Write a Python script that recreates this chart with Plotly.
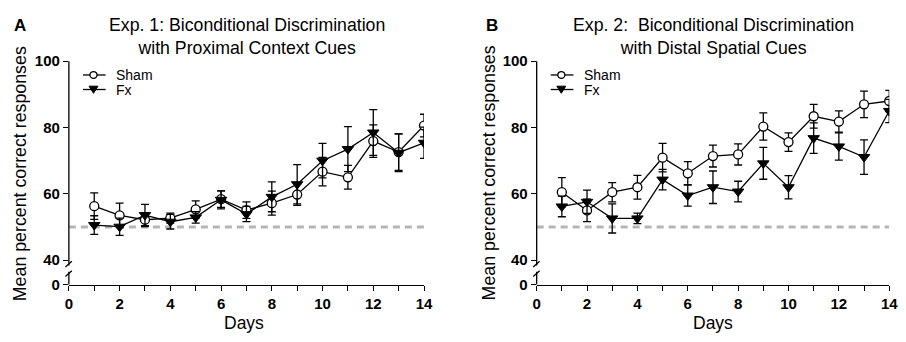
import plotly.graph_objects as go

W, H = 906, 342
OFF = 8  # page body margin offsets the figure on screen

days = list(range(1, 15))

# Panel A: Exp. 1 (proximal context cues)
a_sham = [56.3, 53.5, 52.2, 52.7, 55.3, 58.4, 55.1, 57.2, 59.8, 66.7, 65.0, 75.9, 72.6, 80.6]
a_sham_err = [4.0, 3.7, 2.1, 1.5, 2.6, 2.5, 2.5, 3.6, 3.3, 4.3, 3.6, 4.9, 5.5, 3.4]
a_fx = [50.6, 50.1, 53.6, 51.6, 52.9, 58.2, 53.9, 59.1, 62.9, 70.0, 73.5, 78.5, 72.4, 75.4]
a_fx_err = [2.8, 2.6, 3.2, 2.2, 1.7, 2.7, 2.3, 4.5, 5.9, 5.2, 6.8, 6.9, 5.7, 4.7]

# Panel B: Exp. 2 (distal spatial cues)
b_sham = [60.5, 55.0, 60.5, 62.0, 70.9, 66.2, 71.4, 71.9, 80.3, 75.6, 83.4, 81.8, 87.0, 88.0]
b_sham_err = [4.4, 3.4, 2.9, 3.6, 4.3, 3.5, 3.3, 3.2, 4.1, 2.8, 3.6, 3.2, 4.0, 3.2]
b_fx = [56.2, 57.6, 52.6, 52.6, 64.3, 59.5, 62.0, 60.7, 69.2, 62.0, 76.8, 74.3, 71.1, 85.0]
b_fx_err = [3.1, 3.5, 4.4, 1.6, 3.1, 3.2, 4.9, 3.1, 4.8, 3.5, 4.6, 4.1, 5.2, 3.5]

chance = 50
chance_x = [0, 14]

x_tickvals = list(range(0, 15))
x_ticktext = [str(v) if v % 2 == 0 else "" for v in x_tickvals]
Y_BREAK0 = 32.67  # display position of the "0" tick below the axis break
y_tickvals = [Y_BREAK0, 40, 60, 80, 100]
y_ticktext = ["0", "40", "60", "80", "100"]

FONT = "Liberation Sans, Arial, sans-serif"

fig = go.Figure()


def px(x):
    return (x - OFF) / W


def py(y):
    return 1 - (y - OFF) / H


def add_panel(xa, ya, sham, sham_err, fx, fx_err):
    fig.add_trace(go.Scatter(
        x=chance_x, y=[chance, chance], mode="lines", xaxis=xa, yaxis=ya,
        line=dict(color="#b5b5b5", width=3, dash="7px,5px"),
        showlegend=False, hoverinfo="skip"))
    fig.add_trace(go.Scatter(
        x=days, y=sham, name="Sham", mode="lines+markers", xaxis=xa, yaxis=ya,
        line=dict(color="black", width=1.3),
        marker=dict(symbol="circle", size=9, color="white",
                    line=dict(color="black", width=1.3)),
        error_y=dict(type="data", array=sham_err, color="black", thickness=1.3, width=4),
        showlegend=False))
    fig.add_trace(go.Scatter(
        x=days, y=fx, name="Fx", mode="lines+markers", xaxis=xa, yaxis=ya,
        line=dict(color="black", width=1.3),
        marker=dict(symbol="triangle-down", size=10, color="black",
                    line=dict(color="black", width=1)),
        error_y=dict(type="data", array=fx_err, color="black", thickness=1.3, width=4),
        showlegend=False))


add_panel("x", "y", a_sham, a_sham_err, a_fx, a_fx_err)
add_panel("x2", "y2", b_sham, b_sham_err, b_fx, b_fx_err)

AX_A = (65.7, 426.0)
AX_B = (540.3, 898.0)
Y_TOP, Y_BOT = 54.5, 289.5

ydom = [py(Y_BOT), py(Y_TOP)]
xcommon = dict(range=[0, 14], tickvals=x_tickvals, ticktext=x_ticktext,
               ticks="outside", ticklen=5, tickwidth=1.3, tickcolor="black",
               showline=True, linecolor="black", linewidth=1.3,
               showgrid=False, zeroline=False,
               tickfont=dict(family=FONT, size=15, color="black", weight="bold"))
ycommon = dict(range=[Y_BREAK0, 100], tickvals=y_tickvals, ticktext=y_ticktext,
               ticks="outside", ticklen=5, tickwidth=1.3, tickcolor="black",
               showline=False, showgrid=False, zeroline=False, domain=ydom,
               tickfont=dict(family=FONT, size=15, color="black", weight="bold"))

fig.update_layout(
    width=W, height=H, margin=dict(l=0, r=0, t=0, b=0),
    paper_bgcolor="white", plot_bgcolor="white", showlegend=False,
    xaxis=dict(domain=[px(AX_A[0]), px(AX_A[1])], anchor="y", **xcommon),
    xaxis2=dict(domain=[px(AX_B[0]), px(AX_B[1])], anchor="y2", **xcommon),
    yaxis=dict(anchor="x", **ycommon),
    yaxis2=dict(anchor="x2", **ycommon),
)

shapes = []
ann = []


def text(x, y, s, size, bold=False, angle=0, xanchor="center"):
    ann.append(dict(x=px(x), y=py(y), xref="paper", yref="paper", text=s,
                    showarrow=False, xanchor=xanchor, yanchor="middle",
                    textangle=angle, align="center",
                    font=dict(family=FONT, size=size, color="black",
                              weight="bold" if bold else "normal")))


def seg(x0, y0, x1, y1, w=1.3):
    shapes.append(dict(type="line", xref="paper", yref="paper",
                       x0=px(x0), x1=px(x1), y0=py(y0), y1=py(y1),
                       line=dict(color="black", width=w)))


for ax_x in (AX_A[0], AX_B[0]):
    # y axis line with a break between 0 and 40
    seg(ax_x, Y_TOP, ax_x, 269.5)
    seg(ax_x, 276, ax_x, Y_BOT)
    for yb in (271, 281):
        seg(ax_x - 3.5, yb, ax_x + 3, yb - 6)
    # legend (drawn manually)
    lx0, lx1, cx, tx = ax_x + 14.3, ax_x + 37.3, ax_x + 25, ax_x + 46
    ys, yf = 69.0, 84.3
    seg(lx0, ys, lx1, ys)
    shapes.append(dict(type="circle", xref="paper", yref="paper",
                       x0=px(cx - 3.6), x1=px(cx + 3.6), y0=py(ys + 3.6), y1=py(ys - 3.6),
                       fillcolor="white", line=dict(color="black", width=1.3)))
    seg(lx0, yf, lx1, yf)
    shapes.append(dict(type="path", xref="paper", yref="paper",
                       path=f"M {px(cx - 4.5)},{py(yf - 3.5)} L {px(cx + 4.5)},{py(yf - 3.5)} "
                            f"L {px(cx)},{py(yf + 4)} Z",
                       fillcolor="black", line=dict(color="black", width=1)))
    text(tx, ys, "Sham", 14, xanchor="left")
    text(tx, yf, "Fx", 14, xanchor="left")

text(16, 17, "A", 17, bold=True)
text(495, 17, "B", 17, bold=True)
text(246, 28, "Exp. 1: Biconditional Discrimination<br>with Proximal Context Cues", 17.7)
text(720, 28, "Exp. 2:\u00a0 Biconditional Discrimination<br>with Distal Spatial Cues", 17.7)
text(16, 172.5, "Mean percent correct responses", 17.8, angle=-90)
text(492, 172.5, "Mean percent correct responses", 17.8, angle=-90)
text(243, 330, "Days", 17.5)
text(719, 330, "Days", 17.5)

fig.update_layout(shapes=shapes, annotations=ann)

fig.write_html("out.html")
